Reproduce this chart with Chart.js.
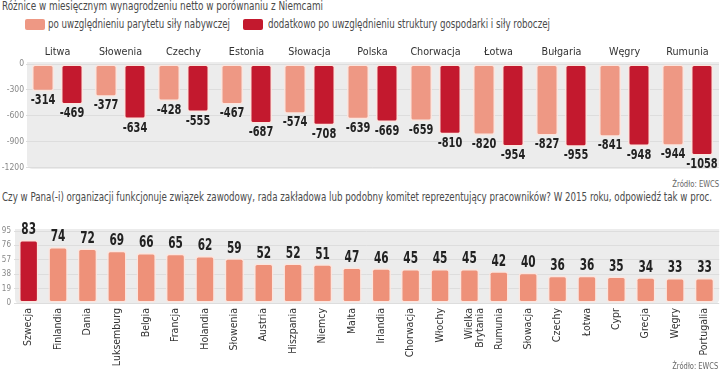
<!DOCTYPE html>
<html>
<head>
<meta charset="utf-8">
<script src="https://cdn.jsdelivr.net/npm/chart.js@4.4.1/dist/chart.umd.min.js"></script>
<style>
  body { margin: 0; width: 720px; height: 372px; position: relative; overflow: hidden; background: #fff;
         font-family: "DejaVu Sans Condensed", "DejaVu Sans", sans-serif; color: #4a4a4a; }
  .txt { position: absolute; white-space: nowrap; font-size: 12px; line-height: 14px; transform-origin: 0 50%; }
  .src { position: absolute; white-space: nowrap; font-size: 9px; line-height: 12px; color: #666; transform-origin: 100% 50%; }
  .sw { position: absolute; width: 20px; height: 11px; border-radius: 2px; }
  canvas { position: absolute; left: 0; }
</style>
</head>
<body>

<div class="txt" data-w="321" style="left:2px; top:-1px;">Różnice w miesięcznym wynagrodzeniu netto w porównaniu z Niemcami</div>
<div class="sw" style="left:25px; top:19px; background:#ee9884;"></div>
<div class="txt" data-w="182" style="left:48px; top:17px;">po uwzględnieniu parytetu siły nabywczej</div>
<div class="sw" style="left:243px; top:19px; background:#c3192e;"></div>
<div class="txt" data-w="282" style="left:268px; top:17px;">dodatkowo po uwzględnieniu struktury gospodarki i siły roboczej</div>
<canvas id="wageChart" width="720" height="135" style="top:40px"></canvas>
<div class="src" data-w="47" style="right:1px; top:178px;">Źródło: EWCS</div>

<div class="txt" data-w="710" style="left:2px; top:190px;">Czy w Pana(-i) organizacji funkcjonuje związek zawodowy, rada zakładowa lub podobny komitet reprezentujący pracowników? W 2015 roku, odpowiedź tak w proc.</div>
<canvas id="unionChart" width="720" height="160" style="top:212px"></canvas>
<div class="src" data-w="46" style="right:2px; top:360px;">Źródło: EWCS</div>

<script>
// top chart: net wage gap vs Germany
const wageCountries = ['Litwa', 'Słowenia', 'Czechy', 'Estonia', 'Słowacja', 'Polska', 'Chorwacja', 'Łotwa', 'Bułgaria', 'Węgry', 'Rumunia'];
const ppsGap = [-314, -377, -428, -467, -574, -639, -659, -820, -827, -841, -944];
const structureGap = [-469, -634, -555, -687, -708, -669, -810, -954, -955, -948, -1058];
const wageTicks = [0, -300, -600, -900, -1200];

// bottom chart: employee representation, % yes
const unionCountries = ['Szwecja', 'Finlandia', 'Dania', 'Luksemburg', 'Belgia', 'Francja', 'Holandia', 'Słowenia',
  'Austria', 'Hiszpania', 'Niemcy', 'Malta', 'Irlandia', 'Chorwacja', 'Włochy', 'Wielka Brytania', 'Rumunia',
  'Słowacja', 'Czechy', 'Łotwa', 'Cypr', 'Grecja', 'Węgry', 'Portugalia'];
const unionShare = [83, 74, 72, 69, 66, 65, 62, 59, 52, 52, 51, 47, 46, 45, 45, 45, 42, 40, 36, 36, 35, 34, 33, 33];
const unionTicks = [0, 19, 38, 57, 76, 95];
const highlighted = 'Szwecja';

const FONT = '"DejaVu Sans Condensed", "DejaVu Sans", sans-serif';
const LIGHT = '#ee9884';
const DARK = '#c3192e';

// squeeze the html texts to the widths of the original's narrow face
document.querySelectorAll('[data-w]').forEach(el => {
  const w = el.getBoundingClientRect().width;
  el.style.transform = 'scaleX(' + (el.dataset.w / w) + ')';
});

// grey rounded panel behind the plot area
const panel = {
  id: 'panel',
  beforeDraw(chart) {
    const { ctx, chartArea: a } = chart;
    ctx.save();
    ctx.fillStyle = '#ececec';
    ctx.beginPath();
    ctx.roundRect(a.left + 1, a.top - 2, a.right - a.left - 1, a.bottom - a.top + 3, [0, 0, 5, 5]);
    ctx.fill();
    ctx.restore();
  }
};

// value labels: below negative bars, above positive, in a condensed bold
const valueLabels = {
  id: 'valueLabels',
  afterDatasetsDraw(chart, args, opts) {
    const { ctx } = chart;
    ctx.save();
    ctx.font = 'bold ' + opts.size + 'px ' + FONT;
    ctx.fillStyle = '#222';
    ctx.textAlign = 'center';
    chart.data.datasets.forEach((ds, di) => {
      chart.getDatasetMeta(di).data.forEach((bar, i) => {
        const v = ds.data[i];
        ctx.save();
        if (v < 0) {
          ctx.textBaseline = 'top';
          ctx.translate(bar.x, bar.y + 2);
        } else {
          ctx.textBaseline = 'bottom';
          ctx.translate(bar.x, bar.y - 2);
        }
        ctx.scale(0.78, 1);
        ctx.fillText(String(v), 0, 0);
        ctx.restore();
      });
    });
    ctx.restore();
  }
};

const wageChart = new Chart(document.getElementById('wageChart'), {
  type: 'bar',
  data: {
    labels: wageCountries,
    datasets: [
      { label: 'po uwzględnieniu parytetu siły nabywczej', data: ppsGap, backgroundColor: LIGHT },
      { label: 'dodatkowo po uwzględnieniu struktury gospodarki i siły roboczej', data: structureGap, backgroundColor: DARK }
    ]
  },
  options: {
    responsive: false,
    animation: false,
    layout: { padding: { top: 0, bottom: 7, left: 0, right: 1 } },
    datasets: {
      bar: {
        categoryPercentage: 0.92,
        barPercentage: 0.76,
        borderRadius: 3,
        borderSkipped: false,
        borderWidth: 1.5,
        borderColor: 'rgba(255,228,220,0.85)'
      }
    },
    scales: {
      x: {
        position: 'top',
        grid: { display: false, drawTicks: false },
        border: { display: false },
        ticks: { color: '#333', font: { family: FONT, size: 10.7 }, padding: 5, maxRotation: 0 },
        afterFit(s) { s.height = 24; }
      },
      y: {
        min: -1200, max: 0,
        afterBuildTicks(s) { s.ticks = wageTicks.map(v => ({ value: v })); },
        grid: { color: '#dddddd', drawTicks: false },
        border: { display: false },
        ticks: { color: '#888', font: { family: FONT, size: 8.5 }, padding: 2, callback: v => String(v) },
        afterFit(s) { s.width = 26; }
      }
    },
    plugins: {
      legend: { display: false },
      tooltip: { enabled: false },
      valueLabels: { size: 14 }
    }
  },
  plugins: [panel, valueLabels]
});

const unionChart = new Chart(document.getElementById('unionChart'), {
  type: 'bar',
  data: {
    labels: unionCountries,
    datasets: [{
      label: 'tak, %',
      data: unionShare,
      backgroundColor: ctx => unionCountries[ctx.dataIndex] === highlighted ? DARK : '#ee9179'
    }]
  },
  options: {
    responsive: false,
    animation: false,
    layout: { padding: { top: 19, bottom: 0, left: 0, right: 0 } },
    datasets: {
      bar: {
        categoryPercentage: 1,
        barPercentage: 0.66,
        borderRadius: 3,
        borderSkipped: false,
        borderWidth: 1.5,
        borderColor: 'rgba(255,228,220,0.85)'
      }
    },
    scales: {
      x: {
        grid: { display: false, drawTicks: false },
        border: { display: false },
        ticks: {
          color: '#333',
          font: { family: FONT, size: 10.5, lineHeight: 1 },
          padding: 5,
          minRotation: 90, maxRotation: 90,
          autoSkip: false,
          callback(v) {
            const l = this.getLabelForValue(v);
            return l.includes(' ') ? l.split(' ') : l;
          }
        },
        afterFit(s) { s.height = 69; }
      },
      y: {
        min: 0, max: 95,
        afterBuildTicks(s) { s.ticks = unionTicks.map(v => ({ value: v })); },
        grid: { color: '#dddddd', drawTicks: false },
        border: { display: false },
        ticks: { color: '#888', font: { family: FONT, size: 8 }, padding: 3 },
        afterFit(s) { s.width = 14; }
      }
    },
    plugins: {
      legend: { display: false },
      tooltip: { enabled: false },
      valueLabels: { size: 15 }
    }
  },
  plugins: [panel, valueLabels]
});
</script>
</body>
</html>
